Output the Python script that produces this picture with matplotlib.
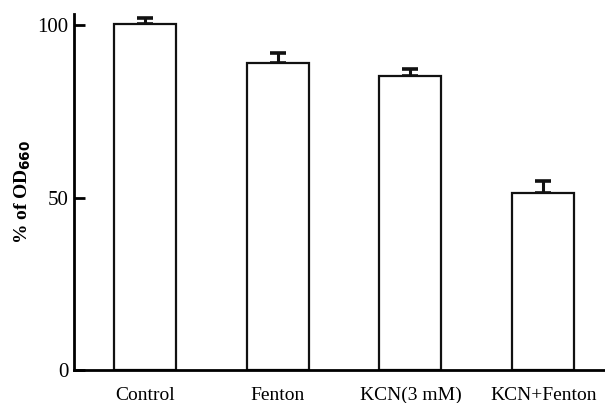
import matplotlib
matplotlib.use("Agg")
import matplotlib.pyplot as plt

categories = ["Control", "Fenton", "KCN(3 mM)", "KCN+Fenton"]
values = [100.4, 88.9, 85.2, 51.4]
errors = [1.6, 2.9, 2.0, 3.3]
yticks = [0, 50, 100]

plt.rcParams['font.family'] = ['Liberation Serif', 'DejaVu Serif']

fig = plt.figure(figsize=(6.05, 4.03), dpi=100)
ax = fig.add_axes([74 / 605, 1 - 370 / 403, 1 - 74 / 605, (370 - 14) / 403])

x = list(range(len(categories)))
ax.bar(x, values, width=0.467, color='white', edgecolor='#111111', linewidth=1.6, zorder=2)
ax.errorbar(x, values, yerr=[[0] * len(errors), errors], fmt='none', ecolor='#111111',
            elinewidth=2.2, capsize=5.8, capthick=2.6, zorder=1)

ax.set_xlim(-0.535, 3.466)
ax.set_ylim(0, 103.2)
ax.set_yticks(yticks)
ax.set_xticks(x)
ax.set_xticklabels(categories, fontsize=14)
ax.tick_params(axis='x', length=0, pad=12)
ax.tick_params(axis='y', direction='in', length=8, width=2, labelsize=15, pad=4)

for s in ['top', 'right']:
    ax.spines[s].set_visible(False)
ax.spines['left'].set_linewidth(2)
ax.spines['bottom'].set_linewidth(2)

ax.set_ylabel('% of OD$_{\\mathbf{660}}$', fontsize=14, fontweight='bold', labelpad=3)

fig.savefig('out.png', dpi=100)
